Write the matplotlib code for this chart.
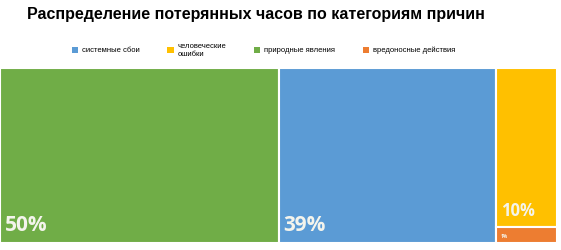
import matplotlib.pyplot as plt
from matplotlib.patches import Rectangle

# data
categories = ["природные явления", "системные сбои", "человеческие\nошибки", "вредоносные действия"]
shares = [50, 39, 10, 1]
labels = ["50%", "39%", "10%", "1%"]
colors = ["#70AD47", "#5B9BD5", "#FFC000", "#ED7D31"]
legend_order = [1, 2, 0, 3]
label_sizes = [15, 15, 12, 3.5]

fig = plt.figure(figsize=(5.61, 2.5), dpi=100)
ax = fig.add_axes([0, 7 / 250, 557 / 561, 175 / 250])
ax.set_xlim(0, 100)
ax.set_ylim(0, 1)
ax.axis("off")

# treemap layout: first two categories as full-height columns,
# the rest stacked in the last column
total = sum(shares)
rects = []
x = 0
for s in shares[:2]:
    w = s / total * 100
    rects.append((x, 0, w, 1))
    x += w
rest = sum(shares[2:])
w = 100 - x
y = 1
for s in shares[2:]:
    h = s / rest
    y -= h
    rects.append((x, y, w, h))

for (rx, ry, rw, rh), c, lab, fs in zip(rects, colors, labels, label_sizes):
    ax.add_patch(Rectangle((rx, ry), rw, rh, facecolor=c, edgecolor="white", linewidth=1.5))
    ax.text(rx + 0.9, ry + 0.04 if rh > 0.5 else ry + 0.25 * rh if rh < 0.2 else ry + 0.12,
            lab, color="#F4F4EC", fontsize=fs, fontweight="bold",
            family="Open Sans", ha="left", va="bottom")

fig.text(27 / 561, 1 - 14 / 250, "Распределение потерянных часов по категориям причин",
         fontsize=11.5, fontweight="bold", family="Liberation Sans", va="center")

# legend
handles = [Rectangle((0, 0), 1, 1, facecolor=colors[i]) for i in legend_order]
names = [categories[i] for i in legend_order]
fig.legend(handles, names, loc="center", bbox_to_anchor=(0.47, 1 - 50 / 250),
           ncol=4, frameon=False, handlelength=0.85, handleheight=0.85,
           columnspacing=3.6, handletextpad=0.5, borderpad=0,
           prop={"family": "Liberation Sans", "size": 5.5})

fig.savefig("out.png", dpi=100)
